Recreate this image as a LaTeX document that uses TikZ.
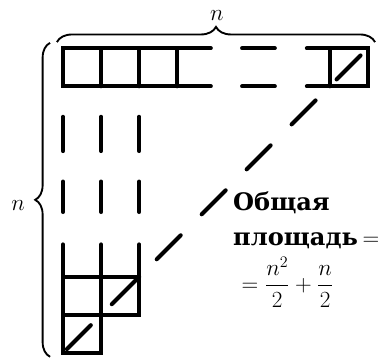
\documentclass[tikz,border=0pt]{standalone}
\usepackage{amsmath}
\usepackage{fontspec}
\newfontfamily\cyrfont{DejaVu Serif}
\usetikzlibrary{decorations.pathreplacing}

\begin{document}
\begin{tikzpicture}[
    edge/.style={line width=3pt, line cap=round},
    diag/.style={line width=3pt, line cap=round},
    brace/.style={decorate, decoration={brace, amplitude=#1}, line width=1.4pt},
    lbl/.style={font=\fontsize{18}{26}\selectfont, inner sep=0pt}
    ]
    \useasboundingbox (-1.654,-0.184) rectangle (8.294,9.265);
    % top row of cells
    \draw[edge] (3.88,8) -- (0,8) -- (0,7) -- (3.88,7);
    \foreach \x in {1,2,3}
        \draw[edge] (\x,7) -- (\x,8);
    \draw[edge] (4.70,8) -- (5.56,8);
    \draw[edge] (4.70,7) -- (5.56,7);
    \draw[edge] (6.4,8) -- (8,8) -- (8,7) -- (6.4,7);
    \draw[edge] (7,7) -- (7,8);
    % columns
    \foreach \x in {0,1,2} {
        \draw[edge] (\x,6.2) -- (\x,5.3);
        \draw[edge] (\x,4.5) -- (\x,3.7);
    }
    \draw[edge] (0,2.85) -- (0,0) -- (1,0) -- (1,2.85);
    \draw[edge] (2,2.85) -- (2,1) -- (0,1);
    \draw[edge] (0,2) -- (2,2);
    % diagonal
    \foreach \k in {0,...,6}
        \draw[diag] ({0.1+1.18*\k},{0.1+1.18*\k}) -- ++(0.63,0.63);
    % braces
    \draw[brace=0.4cm] (-0.16,8.16) -- (8.19,8.16);
    \draw[brace=0.39cm] (-0.34,-0.1) -- (-0.34,8.14);
    \node[lbl] (nTop) at (4.04,8.87) {$n$};
    \node[lbl] (nLeft) at (-1.18,3.88) {$n$};
    % total area
    \node[lbl, anchor=base west] (area1) at (4.46,3.75) {\cyrfont\bfseries Общая};
    \node[lbl, anchor=base west] (area2) at (4.46,2.83) {\cyrfont\bfseries площадь\hspace{0.12cm}$=$};
    \node[lbl, anchor=west] (area3) at (4.68,1.86) {$=\dfrac{n^2}{2}+\dfrac{n}{2}$};
\end{tikzpicture}
\end{document}
